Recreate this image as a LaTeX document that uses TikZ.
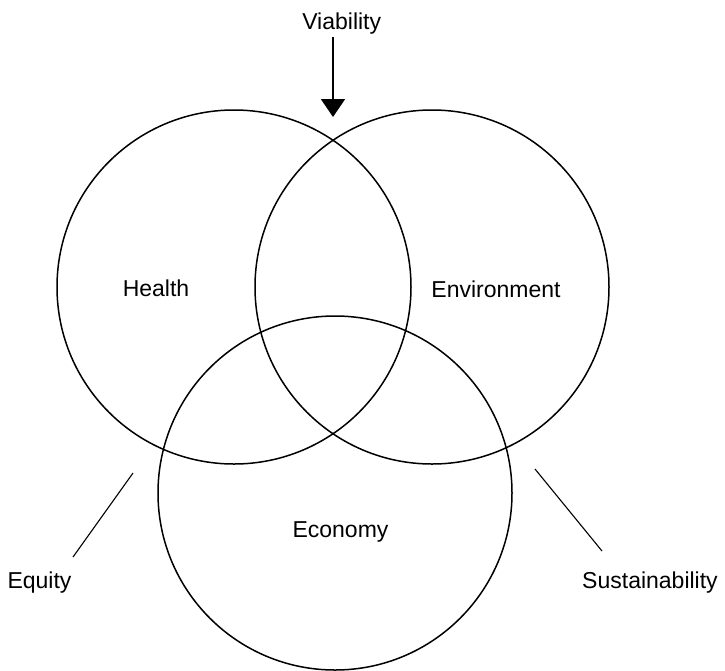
\documentclass[tikz,border=0pt]{standalone}
\usepackage{fontspec}
\setmainfont{Liberation Sans}
\usepackage{tikz}
\usetikzlibrary{arrows.meta}

\begin{document}
\begin{tikzpicture}[x=1pt,y=-1pt,
	ring/.style={shape=circle,draw=black,line width=1.5pt,minimum size=354pt,inner sep=0pt},
	word/.style={anchor=base,font=\fontsize{23}{27}\selectfont},
	pointer/.style={line width=1.1pt},
	viaarrow/.style={line width=2pt,-{Triangle[width=24pt,length=18pt]}}]
	
	\useasboundingbox (0,0) rectangle (725,670);
	
	\node[ring] (health) at (234,287) {};
	\node[ring] (env)    at (432,287) {};
	\node[ring] (econ)   at (335,493) {};
	
	\node[word] (healthtext) at (156,296)   {Health};
	\node[word] (envtext)    at (496,297)   {Environment};
	\node[word] (econtext)   at (340.5,537) {Economy};
	\node[word] (viability)  at (341.7,29)  {Viability};
	\node[word] (equity)     at (39.5,588)  {Equity};
	\node[word] (sustain)    at (650,588)   {Sustainability};
	
	\coordinate (vtip)   at (333,117);
	\coordinate (eqlow)  at (73,557);
	\coordinate (eqhigh) at (133,473);
	\coordinate (sulow)  at (602,551);
	\coordinate (suhigh) at (535,469);
	
	\path[viaarrow] (viability.south -| vtip) edge (vtip);
	\path[pointer] (eqlow) edge (eqhigh);
	\path[pointer] (sulow) edge (suhigh);
\end{tikzpicture}
\end{document}
